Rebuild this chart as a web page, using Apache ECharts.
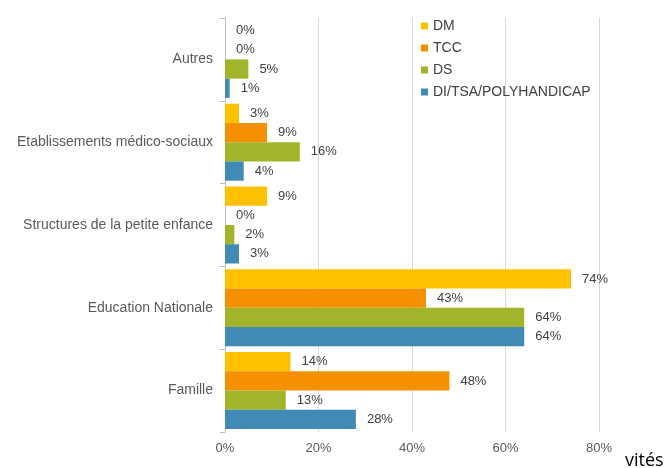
<!DOCTYPE html>
<html><head><meta charset="utf-8">
<script src="https://cdn.jsdelivr.net/npm/echarts@6/dist/echarts.min.js"></script>
<style>html,body{margin:0;padding:0;background:#fff}#c{width:667px;height:468px}</style>
</head><body><div id="c"></div>
<script>
const categories = ["Famille", "Education Nationale", "Structures de la petite enfance", "Etablissements médico-sociaux", "Autres"];
const seriesNames = ["DM", "TCC", "DS", "DI/TSA/POLYHANDICAP"];
const dmValues = [14, 74, 9, 3, 0];
const tccValues = [48, 43, 0, 9, 0];
const dsValues = [13, 64, 2, 16, 5];
const diValues = [28, 64, 3, 4, 1];
const colors = ["#FFC000", "#F59100", "#A2B52A", "#418AB5"];
const xTicks = [0, 20, 40, 60, 80];

const valuesBySeries = [dmValues, tccValues, dsValues, diValues];
const series = valuesBySeries.map((vals, i) => ({
  name: seriesNames[i],
  type: 'bar',
  data: vals,
  barGap: '0%',
  barCategoryGap: '7%',
  itemStyle: { color: colors[i] },
  label: { show: true, position: 'right', distance: 11, formatter: '{c}%', color: '#404040', fontSize: 13, fontFamily: 'Liberation Sans, Arial, sans-serif' }
}));

const chart = echarts.init(document.getElementById('c'), null, { renderer: 'canvas' });
chart.setOption({
  animation: false,
  grid: { left: 225, right: 68, top: 18, bottom: 36, containLabel: false },
  legend: {
    data: seriesNames.map((n, i) => ({ name: n, itemStyle: { color: colors[i] } })),
    orient: 'vertical', left: 421, top: 15, padding: 0, itemWidth: 7, itemHeight: 7, itemGap: 0,
    textStyle: { fontSize: 14, lineHeight: 22, color: '#404040', fontFamily: 'Liberation Sans, Arial, sans-serif' },
    icon: 'rect'
  },
  xAxis: {
    type: 'value', min: xTicks[0], max: xTicks[xTicks.length - 1], interval: 20,
    axisLabel: { formatter: '{value}%', color: '#595959', fontSize: 13, margin: 10, fontFamily: 'Liberation Sans, Arial, sans-serif' },
    splitLine: { lineStyle: { color: '#d9d9d9' } },
    axisLine: { show: false }, axisTick: { show: false }
  },
  yAxis: {
    type: 'category', data: categories,
    axisLine: { lineStyle: { color: '#bfbfbf' } },
    axisTick: { show: true, length: 5, lineStyle: { color: '#bfbfbf' } },
    axisLabel: { color: '#595959', fontSize: 14, margin: 12, fontFamily: 'Liberation Sans, Arial, sans-serif' }
  },
  series: series,
  graphic: [{ type: 'text', left: 625, top: 452, style: { text: 'vités', fontSize: 18, fill: '#000', fontFamily: 'Open Sans, Liberation Sans, sans-serif' } }]
});
</script></body></html>
